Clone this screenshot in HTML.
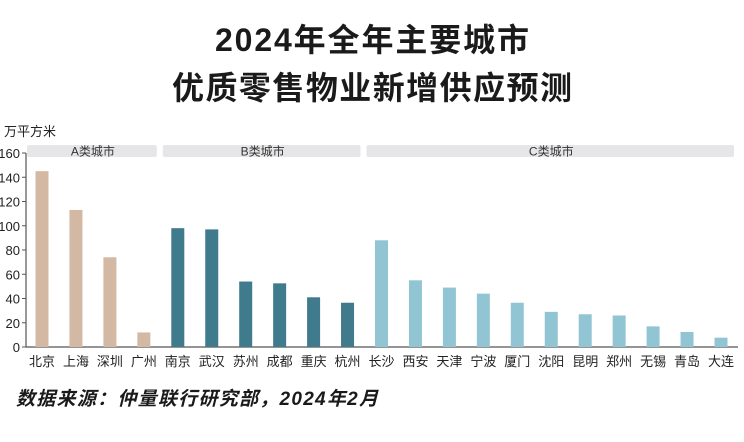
<!DOCTYPE html>
<html><head><meta charset="utf-8"><style>
body{margin:0;background:#fff;width:744px;height:437px;overflow:hidden;font-family:"Liberation Sans","Noto Sans CJK SC",sans-serif}
</style></head><body>
<svg width="744" height="437" id="c" xmlns="http://www.w3.org/2000/svg">
<text x="372" y="51" text-anchor="middle" font-size="32" font-weight="bold" fill="#1a1a1a" textLength="314">2024年全年主要城市</text>
<text x="372" y="99" text-anchor="middle" font-size="32" font-weight="bold" fill="#1a1a1a" textLength="400">优质零售物业新增供应预测</text>
<text x="4" y="136" font-size="13" fill="#222">万平方米</text>
<text x="16" y="405" font-size="19" font-weight="bold" font-style="italic" fill="#1a1a1a" textLength="362">数据来源：仲量联行研究部，2024年2月</text>
</svg>
<script>
const categories=["北京","上海","深圳","广州","南京","武汉","苏州","成都","重庆","杭州","长沙","西安","天津","宁波","厦门","沈阳","昆明","郑州","无锡","青岛","大连"];
const values=[145,113,74,12,98,97,54,52.5,41,36.5,88,55,49,44,36.5,29,27,26,17,12.4,7.7];
const groups=["A","A","A","A","B","B","B","B","B","B","C","C","C","C","C","C","C","C","C","C","C"];
const groupLabels=["A类城市","B类城市","C类城市"];
const yTicks=[0,20,40,60,80,100,120,140,160];
const colors={A:"#d3b9a4",B:"#3f7a8d",C:"#92c5d4"};
const svg=document.getElementById('c');const NS="http://www.w3.org/2000/svg";
const y0=347,yTop=153,yMax=160;
const y=v=>y0-(v/yMax)*(y0-yTop);
const x=i=>42+i*33.95;
function mk(t,a){const e=document.createElementNS(NS,t);for(const k in a)e.setAttribute(k,a[k]);svg.appendChild(e);return e;}
let ax=mk('line',{x1:26,y1:153,x2:26,y2:y0,stroke:'#555','stroke-width':1.2});


let bx=mk('line',{x1:26,y1:y0,x2:738,y2:y0,stroke:'#555','stroke-width':1.2});


yTicks.forEach(t=>{
 let tk=mk('line',{x1:22,x2:26,y1:y(t),y2:y(t),stroke:'#555'});
 
 
 let tl=mk('text',{x:20,y:y(t)+5,'text-anchor':'end','font-size':13,fill:'#222'});
 tl.textContent=t;
 
 
});
["A","B","C"].forEach((g,gi)=>{
 const idx=groups.map((v,i)=>v===g?i:-1).filter(i=>i>=0);
 const x1=x(idx[0])-15,x2=x(idx[idx.length-1])+15;
 let r=mk('rect',{x:x1,y:145,width:x2-x1-2,height:12,rx:2,fill:'#e6e6e8'});
 
 
 let t=mk('text',{x:(x1+x2)/2,y:155.5,'text-anchor':'middle','font-size':12,fill:'#333'});
 t.textContent=groupLabels[gi];
 
 
});
categories.forEach((c,i)=>{
 let b=mk('rect',{x:x(i)-6.5,y:y(values[i]),width:13,height:y0-y(values[i]),fill:colors[groups[i]]});
 
 
 let t=mk('text',{x:x(i),y:366,'text-anchor':'middle','font-size':13,fill:'#222'});
 t.textContent=c;
 
 
});
</script>
</body></html>
